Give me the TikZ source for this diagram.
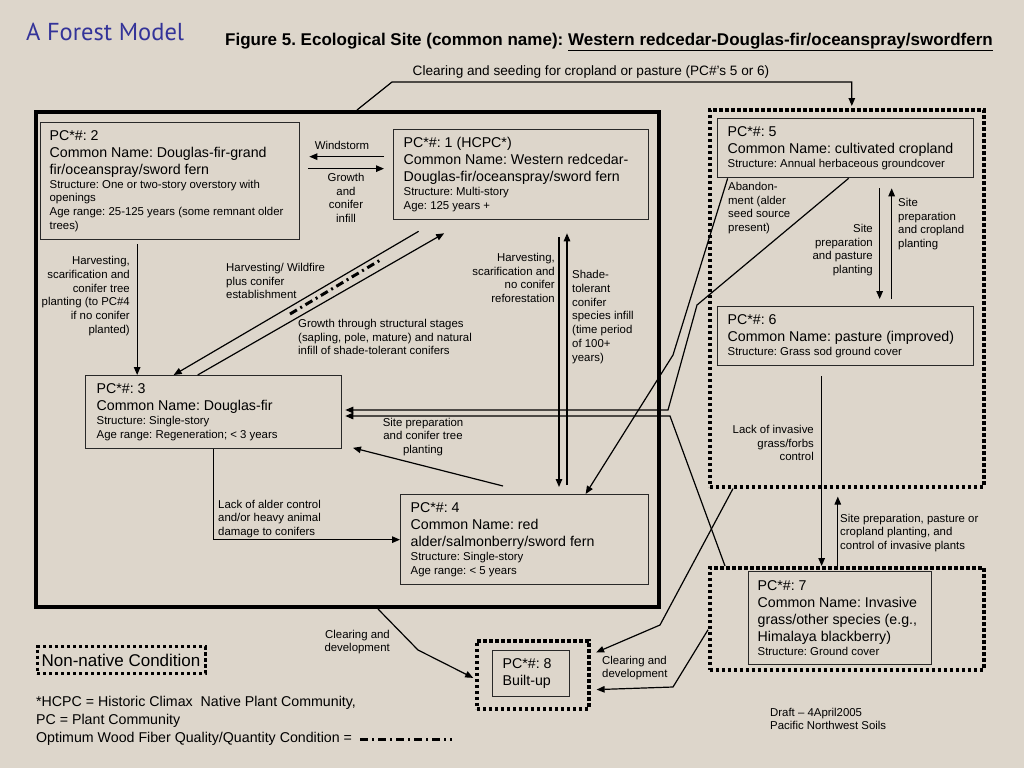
\documentclass[tikz,border=0pt]{standalone}
\usepackage{fontspec}
\setmainfont{Liberation Sans}
\newfontfamily\headfont{PT Sans}
\usetikzlibrary{arrows.meta,positioning}
\frenchspacing
\hyphenpenalty=10000

\definecolor{paper}{RGB}{221,214,203}
\definecolor{headblue}{RGB}{51,51,153}
\definecolor{boxline}{RGB}{40,40,40}

\newcommand{\pcbig}{\fontsize{14.2}{17}\selectfont}
\newcommand{\pcsmall}{\fontsize{11.4}{13.7}\selectfont}
\newcommand{\legfont}{\fontsize{14.2}{18}\selectfont}

\begin{document}
\begin{tikzpicture}[x=1pt, y=-1pt,
  pc/.style={draw=boxline, line width=1.3pt, anchor=north west, align=flush left,
             inner xsep=10pt, inner ysep=0pt, font=\pcbig},
  zone/.style={draw=black, line width=3.6pt, dash pattern=on 3.4pt off 2.6pt,
               anchor=north west, inner sep=0pt},
  lbl/.style={font=\pcsmall, inner sep=0pt},
  arr/.style={-{Triangle[length=8pt,width=6.5pt]}, line width=1.2pt},
  optimum/.style={line width=3pt, dash pattern=on 8pt off 4pt on 2pt off 4pt}
]
  \fill[paper] (0,0) rectangle (1024,768);
  \useasboundingbox (0,0) rectangle (1024,768);

  % Heading
  \node[font=\headfont\fontsize{24.5}{28}\selectfont, text=headblue, anchor=west,
        inner sep=0pt] (head) at (26,32) {A Forest Model};
  \node[font=\bfseries\fontsize{17}{20}\selectfont, inner sep=0pt] (title) at (609,42)
    {Figure 5. Ecological Site (common name): \underline{Western redcedar-Douglas-fir/oceanspray/swordfern}};

  % Native community frame
  \node[draw, line width=4pt, minimum width=623pt, minimum height=495pt,
        anchor=north west, inner sep=0pt] (native) at (34,110) {};
  % Non-native zones
  \foreach \n/\x/\y/\w/\h in {crop/708/108/274/377, invasive/708/566/274/102,
                              built/475/639/112/68} {
    \node[zone, minimum width=\w pt, minimum height=\h pt] (\n) at (\x,\y) {};
  }

  % Plant communities
  \node[pc, text width=235pt, minimum height=90pt] (pc1) at (393,129)
    {PC*\#: 1 (HCPC*)\\Common Name: Western redcedar-\\Douglas-fir/oceanspray/sword fern\par
     \pcsmall Structure: Multi-story\\Age: 125 years +\par};
  \node[pc, inner xsep=9pt, text width=241pt, minimum height=117pt] (pc2) at (40,122)
    {PC*\#: 2\\Common Name: Douglas-fir-grand\\fir/oceanspray/sword fern\par
     \pcsmall Structure: One or two-story overstory with\\openings\\
     Age range: 25-125 years (some remnant older\\trees)\par};
  \node[pc, inner xsep=11pt, text width=234pt, minimum height=73pt] (pc3) at (85,375)
    {PC*\#: 3\\Common Name: Douglas-fir\par
     \pcsmall Structure: Single-story\\Age range: Regeneration; < 3 years\par};
  \node[pc, text width=228pt, minimum height=90pt] (pc4) at (400,494)
    {PC*\#: 4\\Common Name: red\\alder/salmonberry/sword fern\par
     \pcsmall Structure: Single-story\\Age range: < 5 years\par};
  \node[pc, text width=236pt, minimum height=59pt] (pc5) at (717,118)
    {PC*\#: 5\\Common Name: cultivated cropland\par
     \pcsmall Structure: Annual herbaceous groundcover\par};
  \node[pc, text width=236pt, minimum height=59pt] (pc6) at (717,306)
    {PC*\#: 6\\Common Name: pasture (improved)\par
     \pcsmall Structure: Grass sod ground cover\par};
  \node[pc, inner xsep=9pt, text width=165pt, minimum height=93pt] (pc7) at (748,571)
    {PC*\#: 7\\Common Name: Invasive\\grass/other species (e.g.,\\Himalaya blackberry)\par
     \pcsmall Structure: Ground cover\par};
  \node[pc, text width=57pt, minimum height=46pt] (pc8) at (492,650)
    {PC*\#: 8\\Built-up};

  % Bends and free ends
  \coordinate (opt1) at (290,314);
  \coordinate (opt2) at (382,259);
  \coordinate (cut1) at (559,237);
  \coordinate (shade1) at (567,485);
  \coordinate (prep1) at (503,486);
  \coordinate (a1) at (673,355);
  \coordinate (b1) at (697,305);
  \coordinate (b2) at (668,410);
  \coordinate (c1) at (670,416);
  \coordinate (d1) at (660,625);
  \coordinate (e1) at (673,687);
  \coordinate (f1) at (418,650);
  \coordinate (seed2) at (392,82);

  % Inside the native frame
  \draw[arr, shorten <=9pt, shorten >=9pt] ([yshift=18pt]pc1.west) -- ([yshift=18pt]pc1.west -| pc2.east);
  \draw[arr, shorten <=8pt, shorten >=9pt] ([yshift=6pt]pc1.west -| pc2.east) -- ([yshift=6pt]pc1.west);
  \draw[arr, shorten <=4pt] ([xshift=-33pt]pc2.south) -- ([xshift=-33pt]pc2.south |- pc3.north);
  \draw[arr] ([xshift=-102.5pt, yshift=-11pt]pc1.south) -- ([xshift=-40pt]pc3.north);
  \draw[arr] ([xshift=-16pt]pc3.north) -- ([xshift=-77pt, yshift=-13pt]pc1.south);
  \draw[optimum] (opt1) -- (opt2);
  \draw[arr, shorten >=7pt] (cut1) -- (cut1 |- pc4.north);
  \draw[arr, shorten >=13pt] (shade1) -- (shade1 |- pc1.south);
  \draw[arr] (pc3.south) |- (pc4.west);
  \draw[arr, shorten >=11pt] (prep1) -- ([yshift=-33pt]pc3.east);

  % Across the zones
  \draw[arr, shorten >=2pt] ([xshift=323pt]native.north west) -- (seed2) -| ([xshift=5pt]crop.north);
  \draw[arr] ([xshift=-118pt]pc5.south) -- (a1) -- ([xshift=61pt]pc4.north);
  \draw[arr, shorten >=3pt] ([xshift=3pt]pc5.south) -- (b1) -- (b2) -- (b2 -| pc3.east);
  \draw[arr, shorten >=3pt] ([xshift=17pt]invasive.north west) -- (c1) -- (c1 -| pc3.east);
  \draw[arr, shorten >=6pt] ([xshift=25pt]crop.south west) -- (d1) -- ([yshift=20pt]built.east);
  \draw[arr, shorten >=6pt] ([yshift=-11pt]invasive.west) -- (e1) -- ([yshift=-15pt]built.east);
  \draw[arr, shorten >=2pt] ([xshift=344pt]native.south west) -- (f1) -- ([yshift=-4pt]built.west);

  % Cropland, pasture and invasives
  \draw[arr, shorten <=10pt, shorten >=7pt] ([xshift=34pt]pc5.south) -- ([xshift=34pt]pc6.north);
  \draw[arr, shorten <=7pt, shorten >=10pt] ([xshift=46pt]pc6.north) -- ([xshift=46pt]pc5.south);
  \draw[arr, shorten <=10pt] ([xshift=-24pt]pc6.south) -- ([xshift=-24pt]pc6.south |- invasive.north);
  \draw[arr, shorten >=8pt] ([xshift=-9pt]invasive.north) -- ([xshift=-9pt]invasive.north |- crop.south);

  % Labels
  \node[font=\fontsize{13.6}{16}\selectfont, inner sep=0pt] (seedlbl) at (591,72)
    {Clearing and seeding for cropland or pasture (PC\#'s 5 or 6)};
  \node[lbl] (windlbl) at (342,145) {Windstorm};
  \node[lbl, align=center] (growlbl) at (346,198) {Growth\\and\\conifer\\infill};
  \node[lbl, align=right, anchor=east] (harv2lbl) at (130,296)
    {Harvesting,\\scarification and\\conifer tree\\planting (to PC\#4\\if no conifer\\planted)};
  \node[lbl, align=left, anchor=west] (firelbl) at (226,281)
    {Harvesting/ Wildfire\\plus conifer\\establishment};
  \node[lbl, align=left, anchor=west] (stagelbl) at (298,337)
    {Growth through structural stages\\(sapling, pole, mature) and natural\\infill of shade-tolerant conifers};
  \node[lbl, align=right, anchor=east] (harv1lbl) at (555,278)
    {Harvesting,\\scarification and\\no conifer\\reforestation};
  \node[lbl, align=left, anchor=west] (shadelbl) at (572,317)
    {Shade-\\tolerant\\conifer\\species infill\\(time period\\of 100+\\years)};
  \node[lbl, align=center] (preplbl) at (423,437) {Site preparation\\and conifer tree\\planting};
  \node[lbl, align=left, anchor=west] (alderlbl) at (218,519)
    {Lack of alder control\\and/or heavy animal\\damage to conifers};
  \node[lbl, align=left, anchor=west] (abandlbl) at (728,208)
    {Abandon-\\ment (alder\\seed source\\present)};
  \node[lbl, align=right, anchor=east] (pastlbl) at (873,250)
    {Site\\preparation\\and pasture\\planting};
  \node[lbl, align=left, anchor=west] (croplbl) at (898,224)
    {Site\\preparation\\and cropland\\planting};
  \node[lbl, align=right, anchor=east] (invlbl) at (814,443)
    {Lack of invasive\\grass/forbs\\control};
  \node[lbl, align=left, anchor=west] (ctrllbl) at (840,533)
    {Site preparation, pasture or\\cropland planting, and\\control of invasive plants};
  \node[lbl, align=right, anchor=east] (dev1lbl) at (390,642) {Clearing and\\development};
  \node[lbl, align=left, anchor=west] (dev2lbl) at (602,668) {Clearing and\\development};

  % Legend
  \node[zone, line width=3pt, anchor=center, minimum width=168pt, minimum height=27pt,
        font=\fontsize{17}{20}\selectfont] (nonnat) at (121,660) {Non-native Condition};
  \node[font=\legfont, align=left, anchor=west, inner sep=0pt] (legend) at (36,712)
    {*HCPC = Historic Climax\ \ Native Plant Community,\\PC = Plant Community};
  \node[font=\legfont, anchor=west, inner sep=0pt] (legopt) at (36,739)
    {Optimum Wood Fiber Quality/Quantity Condition =};
  \coordinate (optend) at (452,739);
  \draw[optimum] ([xshift=8pt]legopt.east) -- (optend);
  \node[lbl, align=left, anchor=west] (draft) at (770,719) {Draft -- 4April2005\\Pacific Northwest Soils};
\end{tikzpicture}
\end{document}
